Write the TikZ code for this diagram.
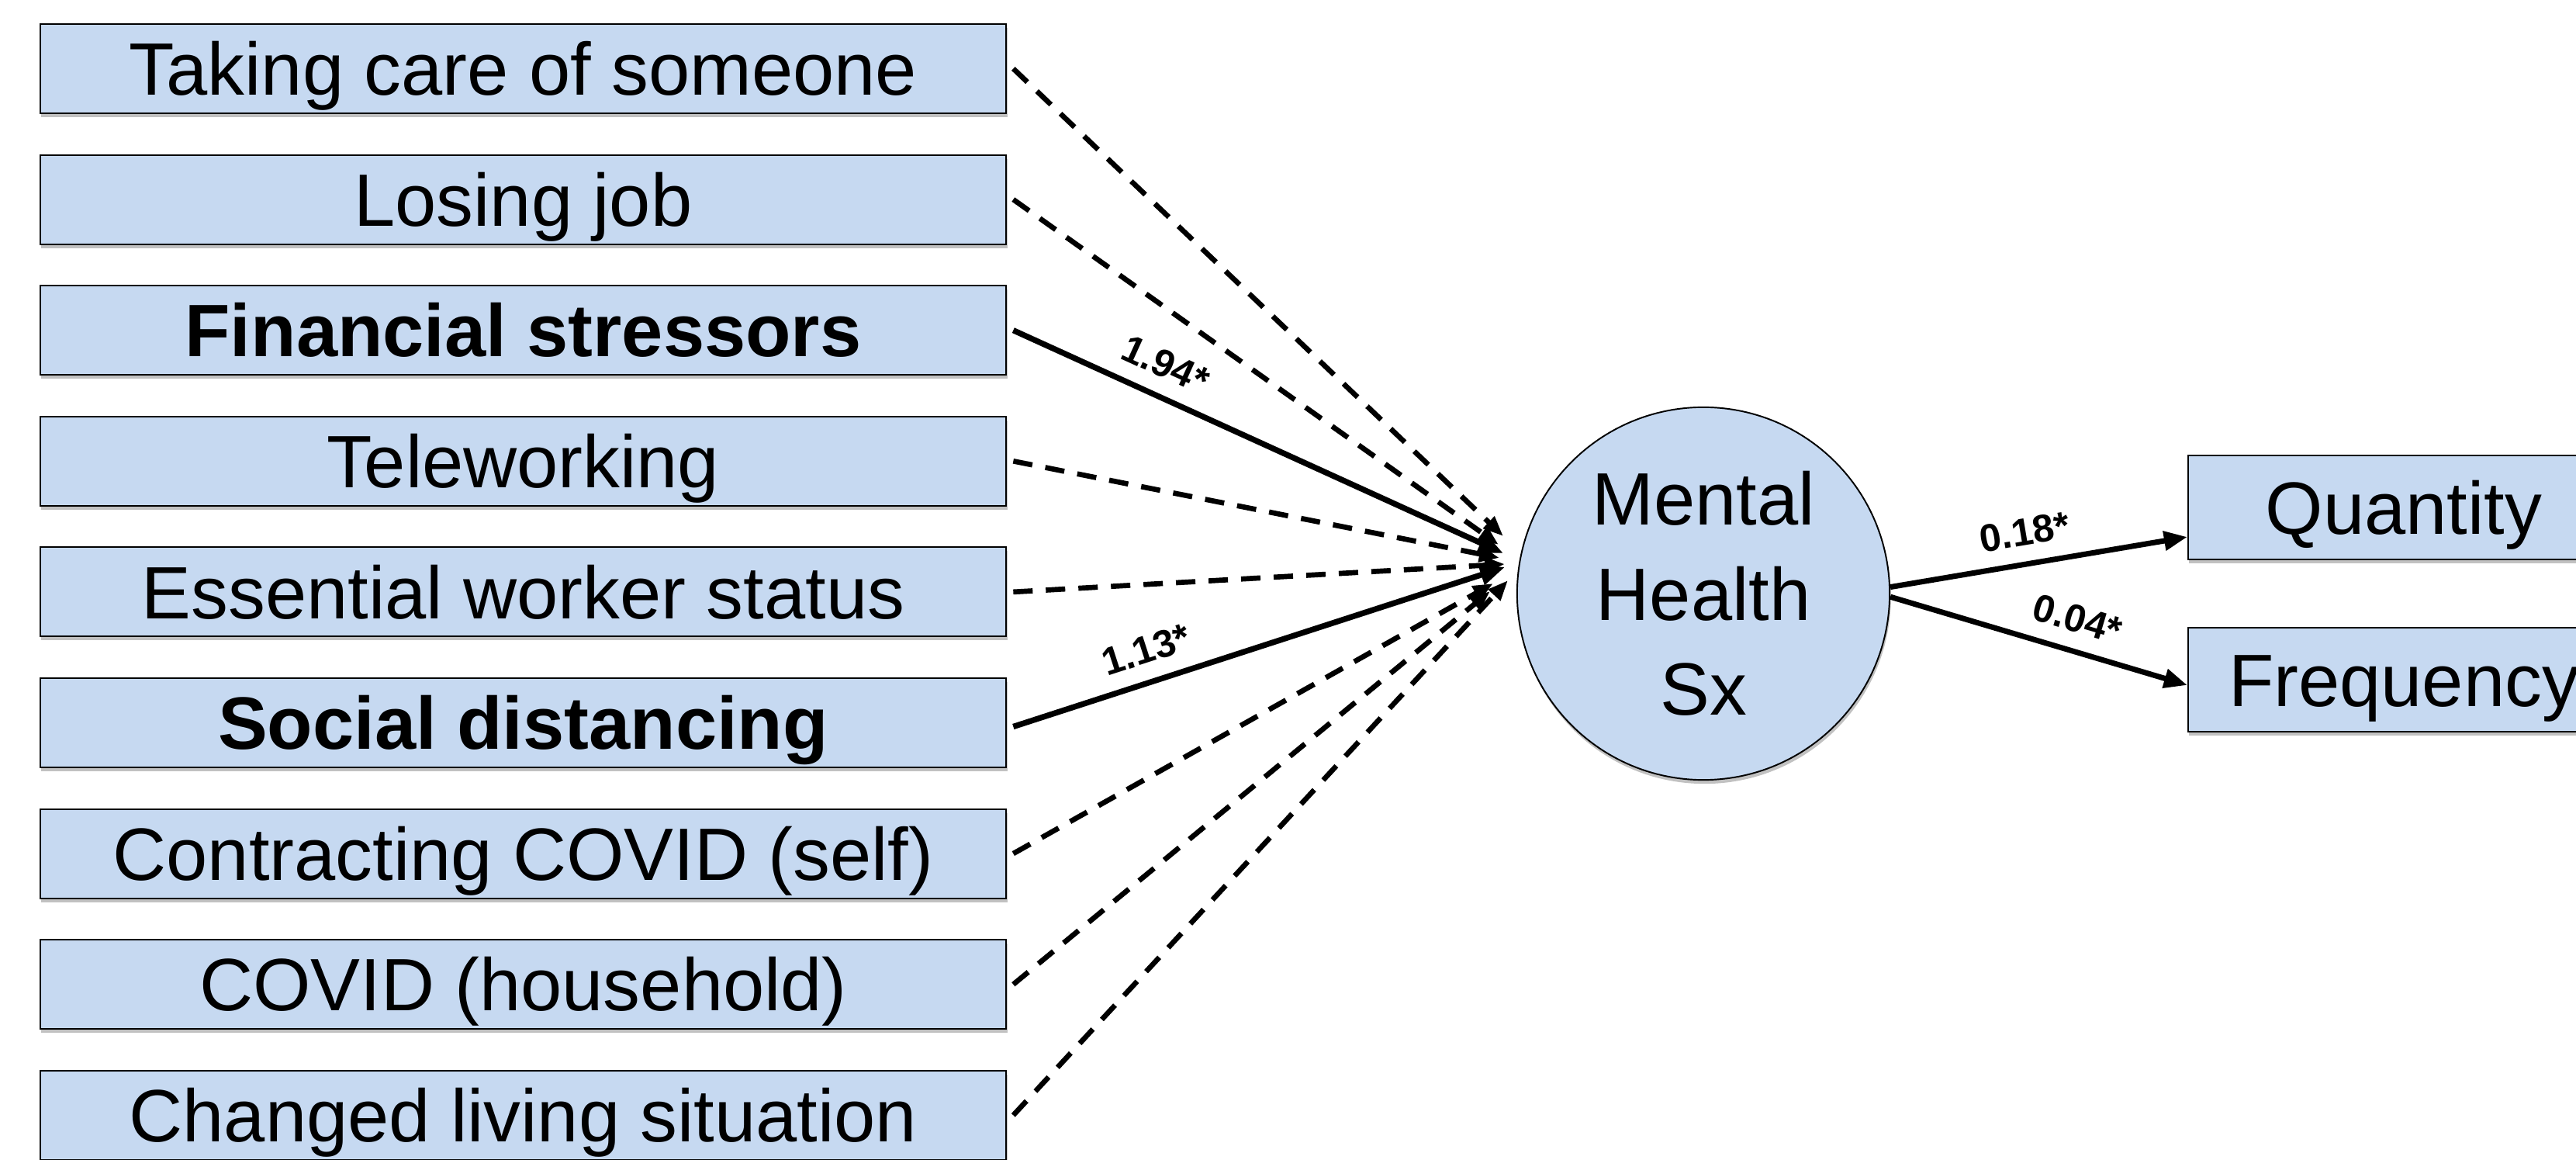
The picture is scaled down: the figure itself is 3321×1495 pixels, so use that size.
\documentclass[tikz,border=0pt]{standalone}
\usepackage{fontspec}
\setmainfont{Liberation Sans}
\usetikzlibrary{arrows.meta,shadows}
\definecolor{boxblue}{RGB}{198,217,241}
\begin{document}
\begin{tikzpicture}[x=0.01cm,y=-0.01cm,
  bigfont/.style={font=\fontsize{27.2}{34.8}\selectfont},
  shad/.style={drop shadow={opacity=0.35, fill=black!70, shadow xshift=0.015cm, shadow yshift=-0.05cm}},
  lbox/.style={draw, line width=0.55pt, fill=boxblue, minimum width=12.45cm, minimum height=1.15cm,
    inner sep=0pt, text height=19.5pt, text depth=0pt, bigfont, shad},
  rbox/.style={draw, line width=0.55pt, fill=boxblue, minimum width=5.56cm, minimum height=1.34cm,
    inner sep=0pt, text height=19.5pt, text depth=0pt, bigfont, shad},
  latent/.style={draw, circle, line width=0.55pt, fill=boxblue, minimum size=4.8cm, inner sep=0pt,
    align=center, bigfont, shad},
  dasharr/.style={line width=1.9pt, dash pattern=on 0.25cm off 0.17cm, -{Triangle[length=0.26cm,width=0.2cm]}},
  solidarr/.style={line width=2.1pt, -{Triangle[length=0.32cm,width=0.26cm]}},
  rarr/.style={line width=2pt, -{Triangle[length=0.3cm,width=0.24cm]}},
  lab/.style={font=\bfseries\fontsize{14.2}{17}\selectfont, inner sep=0pt}
]
\useasboundingbox (0,0) rectangle (3321,1495);
\clip (0,0) rectangle (3321,1495);

% left boxes
\node[lbox] (t1) at (674.5,88.5) {Taking care of someone};
\node[lbox] (t2) at (674.5,257.1) {Losing job};
\node[lbox] (t3) at (674.5,425.7) {\bfseries Financial stressors};
\node[lbox] (t4) at (674.5,594.3) {Teleworking};
\node[lbox] (t5) at (674.5,762.9) {Essential worker status};
\node[lbox] (t6) at (674.5,931.5) {\bfseries Social distancing};
\node[lbox] (t7) at (674.5,1100.1) {Contracting COVID (self)};
\node[lbox] (t8) at (674.5,1268.7) {COVID (household)};
\node[lbox] (t9) at (674.5,1437.3) {Changed living situation};

% latent variable
\node[latent] (m) at (2196,765) {Mental\\Health\\Sx};

% outcomes
\node[rbox] (q) at (3099,654) {Quantity};
\node[rbox] (f) at (3099,876) {Frequency};

% arrow tip points
\coordinate (e1) at (1938,691);
\coordinate (e2) at (1932,702);
\coordinate (e3) at (1938,713);
\coordinate (e4) at (1933,719);
\coordinate (e5) at (1940,727);
\coordinate (e6) at (1940,731);
\coordinate (e7) at (1925,752);
\coordinate (e8) at (1921,762);
\coordinate (e9) at (1944,748);

\draw[dasharr] ([xshift=0.08cm]t1.east) -- (e1);
\draw[dasharr] ([xshift=0.08cm]t2.east) -- (e2);
\draw[dasharr] ([xshift=0.08cm]t4.east) -- (e4);
\draw[dasharr] ([xshift=0.08cm]t5.east) -- (e5);
\draw[dasharr] ([xshift=0.08cm]t7.east) -- (e7);
\draw[dasharr] ([xshift=0.08cm]t8.east) -- (e8);
\draw[dasharr] ([xshift=0.08cm]t9.east) -- (e9);
\draw[solidarr] ([xshift=0.08cm]t3.east) -- node[lab, pos=0.284, above=0.2cm, sloped] {1.94*} (e3);
\draw[solidarr] ([xshift=0.08cm,yshift=-0.05cm]t6.east) -- node[lab, pos=0.29, above=0.2cm, sloped] {1.13*} (e6);

\draw[rarr] (m.2) -- node[lab, pos=0.47, above=0.2cm, sloped] {0.18*} ([yshift=-0.38cm]q.west);
\draw[rarr] (m.-1) -- node[lab, pos=0.60, above=0.2cm, sloped] {0.04*} ([yshift=-0.07cm]f.west);
\end{tikzpicture}
\end{document}
